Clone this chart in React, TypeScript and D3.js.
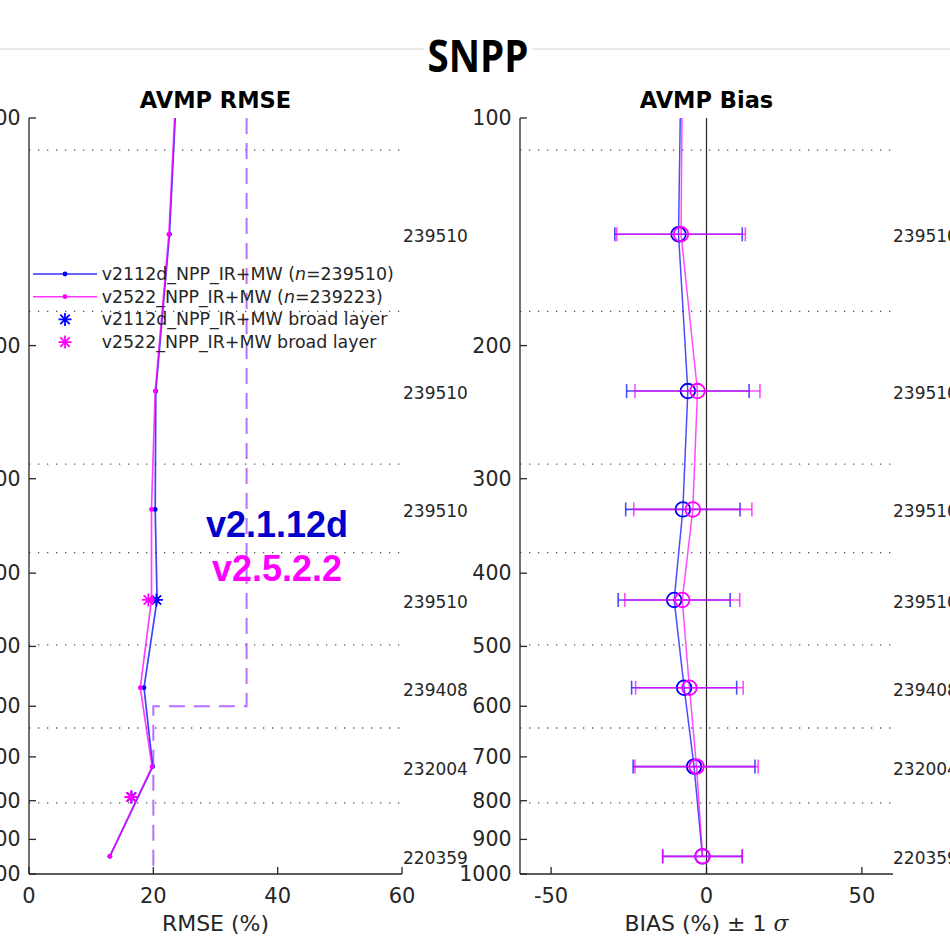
import React from "react";
import * as d3 from "d3";

// Retrieval levels (hPa); the first one sits above the plotted range and is clipped
const profilePressure = [80, 142.5, 229.7, 329.4, 434, 567, 721, 947.6];
const rmseV2112 = [24.1, 22.6, 20.4, 20.3, 20.6, 18.5, 19.9, 13.0];
const rmseV2522 = [24.0, 22.5, 20.3, 19.7, 19.7, 17.9, 19.8, 13.0];

const biasV2112 = [-8.1, -9.0, -6.0, -7.6, -10.4, -7.2, -4.0, -1.3];
const biasV2522 = [-7.7, -8.2, -2.9, -4.4, -7.8, -5.5, -3.2, -1.3];
const sdV2112 = [20.5, 20.5, 19.7, 18.4, 18.0, 16.9, 19.6, 12.8];
const sdV2522 = [20.7, 20.7, 20.1, 19.0, 18.5, 17.3, 19.8, 12.8];

const sampleCounts = ["", "239510", "239510", "239510", "239510", "239408", "232004", "220359"];

// Broad-layer RMSE
const broadPressure = [434, 791];
const broadV2112 = [20.5, 16.5];
const broadV2522 = [19.2, 16.4];

// Requirement threshold (step)
const reqPressure = [100, 600, 600, 1000];
const reqValue = [35, 35, 20, 20];

// Layer boundaries
const layerBounds = [110.3, 180.2, 287, 375.8, 497.7, 641, 805];

const pressureTicks = [100, 200, 300, 400, 500, 600, 700, 800, 900, 1000];
const rmseTicks = [0, 20, 40, 60];
const biasTicks = [-50, 0, 50];

const BLUE = "#0000ff";
const MAGENTA = "#ff00ff";
const TEXT = "#262626";
const FONT = "DejaVu Sans, sans-serif";

const y = d3.scaleLog().domain([100, 1000]).range([118, 874]);
const xR = d3.scaleLinear().domain([0, 60]).range([29, 402]);
const xB = d3.scaleLinear().domain([-60, 60]).range([520, 893]);

function star(cx: number, cy: number, r: number) {
  const a = r * 0.72;
  return `M${cx - r},${cy}L${cx + r},${cy}M${cx},${cy - r}L${cx},${cy + r}M${cx - a},${cy - a}L${cx + a},${cy + a}M${cx - a},${cy + a}L${cx + a},${cy - a}`;
}

function Axes({ x, ticks, left, right }: { x: d3.ScaleLinear<number, number>; ticks: number[]; left: number; right: number }) {
  return (
    <g>
      {layerBounds.map((p, i) => (
        <line key={"lb" + i} x1={left} x2={right} y1={y(p)} y2={y(p)} stroke="#555" strokeWidth={1.3} strokeDasharray="1.3 7.7" />
      ))}
      <line x1={left} x2={left} y1={y(100)} y2={y(1000)} stroke={TEXT} strokeWidth={1.3} />
      <line x1={left} x2={right} y1={y(1000)} y2={y(1000)} stroke={TEXT} strokeWidth={1.3} />
      {pressureTicks.map((p) => (
        <g key={"pt" + p}>
          <line x1={left} x2={left + 7} y1={y(p)} y2={y(p)} stroke={TEXT} strokeWidth={1.3} />
          <text x={left - 8.5} y={y(p)} textAnchor="end" dominantBaseline="central" fontSize={20.5} fontFamily={FONT} fill={TEXT}>
            {p}
          </text>
        </g>
      ))}
      {ticks.map((t) => (
        <g key={"xt" + t}>
          <line x1={x(t)} x2={x(t)} y1={y(1000)} y2={y(1000) - 7} stroke={TEXT} strokeWidth={1.3} />
          <text x={x(t)} y={903} textAnchor="middle" fontSize={21} fontFamily={FONT} fill={TEXT}>
            {t}
          </text>
        </g>
      ))}
    </g>
  );
}

export default function App() {
  const lineR = d3
    .line<number>()
    .x((v) => xR(v))
    .y((_, i) => y(profilePressure[i]));
  const lineB = d3
    .line<number>()
    .x((v) => xB(v))
    .y((_, i) => y(profilePressure[i]));
  const reqLine = d3
    .line<number>()
    .x((v) => xR(v))
    .y((_, i) => y(reqPressure[i]));

  const rmseSeries = [
    { vals: rmseV2112, broad: broadV2112, color: BLUE },
    { vals: rmseV2522, broad: broadV2522, color: MAGENTA },
  ];
  const biasSeries = [
    { vals: biasV2112, sd: sdV2112, color: BLUE },
    { vals: biasV2522, sd: sdV2522, color: MAGENTA },
  ];

  const legendRows = [
    { label: "v2112d_NPP_IR+MW (", n: "239510", color: BLUE, kind: "line" },
    { label: "v2522_NPP_IR+MW (", n: "239223", color: MAGENTA, kind: "line" },
    { label: "v2112d_NPP_IR+MW broad layer", n: "", color: BLUE, kind: "star" },
    { label: "v2522_NPP_IR+MW broad layer", n: "", color: MAGENTA, kind: "star" },
  ];

  return (
    <svg width={950} height={950} style={{ position: "absolute", left: 0, top: 0, background: "#fff" }}>
      <defs>
        <clipPath id="clipR">
          <rect x={xR(0) - 10} y={y(100)} width={xR(60) - xR(0) + 20} height={y(1000) - y(100)} />
        </clipPath>
        <clipPath id="clipB">
          <rect x={xB(-60)} y={y(100)} width={xB(60) - xB(-60)} height={y(1000) - y(100)} />
        </clipPath>
      </defs>
      <rect width={950} height={950} fill="#fff" />

      {/* figure title */}
      <line x1={0} x2={950} y1={49} y2={49} stroke="#d4d4d4" strokeWidth={1} />
      <rect x={424} y={38} width={108} height={24} fill="#fff" />
      <text x={478} y={72} textAnchor="middle" fontSize={44} fontWeight="bold" fontFamily="Open Sans, sans-serif" fill="#000" textLength={101} lengthAdjust="spacingAndGlyphs">
        SNPP
      </text>

      {/* RMSE panel */}
      <text x={215.5} y={108} textAnchor="middle" fontSize={22.5} fontWeight="bold" fontFamily={FONT} fill="#000">
        AVMP RMSE
      </text>
      <Axes x={xR} ticks={rmseTicks} left={xR(0)} right={xR(60)} />
      <g clipPath="url(#clipR)">
        <path d={reqLine(reqValue) || ""} fill="none" stroke="#b870ff" strokeWidth={2} strokeDasharray="16 9" />
        {rmseSeries.map((s, k) => (
          <g key={"rs" + k}>
            <path d={lineR(s.vals) || ""} fill="none" stroke={s.color} strokeOpacity={0.75} strokeWidth={1.7} />
            {s.vals.map((v, i) => (
              <circle key={i} cx={xR(v)} cy={y(profilePressure[i])} r={2.4} fill={s.color} />
            ))}
            {s.broad.map((v, i) => (
              <path key={"b" + i} d={star(xR(v), y(broadPressure[i]), 6.5)} stroke={s.color} strokeWidth={1.8} fill="none" />
            ))}
          </g>
        ))}
      </g>
      <text x={215.5} y={931} textAnchor="middle" fontSize={22} fontFamily={FONT} fill={TEXT}>
        RMSE (%)
      </text>
      {sampleCounts.map((c, i) =>
        c ? (
          <text key={"cr" + i} x={403} y={y(profilePressure[i]) + 2} dominantBaseline="central" fontSize={17} fontFamily={FONT} fill={TEXT}>
            {c}
          </text>
        ) : null
      )}

      {/* legend */}
      {legendRows.map((r, i) => {
        const ly = 274 + i * 22.7;
        return (
          <g key={"lg" + i}>
            {r.kind === "line" ? (
              <g>
                <line x1={33} x2={97} y1={ly} y2={ly} stroke={r.color} strokeOpacity={0.8} strokeWidth={1.6} />
                <circle cx={65} cy={ly} r={2.4} fill={r.color} />
              </g>
            ) : (
              <path d={star(65, ly, 6.5)} stroke={r.color} strokeWidth={1.8} fill="none" />
            )}
            <text x={101.7} y={ly} dominantBaseline="central" fontSize={17.4} fontFamily={FONT} fill={TEXT}>
              {r.label}
              {r.n ? (
                <>
                  <tspan fontStyle="italic">n</tspan>
                  {"=" + r.n + ")"}
                </>
              ) : null}
            </text>
          </g>
        );
      })}

      {/* version annotation */}
      <text x={277} y={537} textAnchor="middle" fontSize={36} fontWeight="bold" fontFamily="Liberation Sans, Arial, sans-serif" fill="#0000cc">
        v2.1.12d
      </text>
      <text x={277} y={581} textAnchor="middle" fontSize={36} fontWeight="bold" fontFamily="Liberation Sans, Arial, sans-serif" fill={MAGENTA}>
        v2.5.2.2
      </text>

      {/* Bias panel */}
      <text x={706.5} y={108} textAnchor="middle" fontSize={22.5} fontWeight="bold" fontFamily={FONT} fill="#000">
        AVMP Bias
      </text>
      <Axes x={xB} ticks={biasTicks} left={xB(-60)} right={xB(60)} />
      <line x1={xB(0)} x2={xB(0)} y1={y(100)} y2={y(1000)} stroke={TEXT} strokeWidth={1.2} />
      <g clipPath="url(#clipB)">
        {biasSeries.map((s, k) => (
          <g key={"bs" + k}>
            <path d={lineB(s.vals) || ""} fill="none" stroke={s.color} strokeOpacity={0.7} strokeWidth={1.5} />
            {s.vals.map((v, i) => {
              const cy = y(profilePressure[i]);
              const lo = xB(v - s.sd[i]);
              const hi = xB(v + s.sd[i]);
              return (
                <g key={i} stroke={s.color} fill="none">
                  <line x1={lo} x2={hi} y1={cy} y2={cy} strokeOpacity={0.7} strokeWidth={1.6} />
                  <line x1={lo} x2={lo} y1={cy - 7} y2={cy + 7} strokeOpacity={0.7} strokeWidth={1.6} />
                  <line x1={hi} x2={hi} y1={cy - 7} y2={cy + 7} strokeOpacity={0.7} strokeWidth={1.6} />
                  <circle cx={xB(v)} cy={cy} r={7.3} strokeWidth={1.8} />
                </g>
              );
            })}
          </g>
        ))}
      </g>
      <text x={706.5} y={931} textAnchor="middle" fontSize={22} fontFamily={FONT} fill={TEXT}>
        BIAS (%) ± 1 <tspan fontStyle="italic" fontFamily="DejaVu Serif, serif">σ</tspan>
      </text>
      {sampleCounts.map((c, i) =>
        c ? (
          <text key={"cb" + i} x={893} y={y(profilePressure[i]) + 2} dominantBaseline="central" fontSize={17} fontFamily={FONT} fill={TEXT}>
            {c}
          </text>
        ) : null
      )}
    </svg>
  );
}
